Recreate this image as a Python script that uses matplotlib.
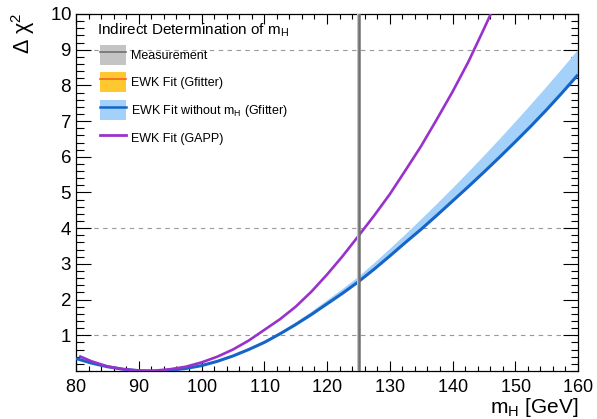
import matplotlib
matplotlib.use("Agg")
import matplotlib.pyplot as plt
from matplotlib.patches import Patch
from matplotlib.lines import Line2D
from matplotlib.ticker import MultipleLocator, FuncFormatter

plt.rcParams['font.family'] = ['Liberation Sans', 'DejaVu Sans']
plt.rcParams['mathtext.fontset'] = 'custom'
plt.rcParams['mathtext.rm'] = 'Liberation Sans'
plt.rcParams['mathtext.it'] = 'Liberation Sans'
plt.rcParams['mathtext.default'] = 'regular'

# ---- data ----
mh_gapp = [80.5, 82.5, 85, 87.5, 90, 91, 92.5, 95, 97.5, 100, 102.5, 105, 107.5, 110,
           112.5, 115, 117.5, 120, 122.5, 125, 127.5, 130, 132.5, 135, 137.5, 140,
           142.5, 145, 146.1]
chi2_gapp = [0.42, 0.27, 0.13, 0.05, 0.01, 0.0, 0.01, 0.05, 0.12, 0.24, 0.40, 0.60, 0.85, 1.15,
             1.45, 1.80, 2.22, 2.70, 3.22, 3.78, 4.35, 4.95, 5.62, 6.30, 7.05, 7.82,
             8.65, 9.58, 10.0]

mh_gf = [80, 82.5, 85, 87.5, 90, 92.5, 95, 97.5, 100, 102.5, 105, 107.5, 110, 112.5,
         115, 117.5, 120, 122.5, 125, 127.5, 130, 132.5, 135, 137.5, 140, 142.5, 145,
         147.5, 150, 152.5, 155, 157.5, 160]
chi2_gf = [0.35, 0.22, 0.12, 0.05, 0.01, 0.0, 0.02, 0.07, 0.15, 0.27, 0.42, 0.60, 0.80, 1.04,
           1.30, 1.58, 1.88, 2.18, 2.50, 2.85, 3.22, 3.60, 3.97, 4.36, 4.76, 5.16, 5.57,
           5.99, 6.42, 6.86, 7.32, 7.80, 8.30]
chi2_gf_up = [0.35, 0.22, 0.12, 0.05, 0.01, 0.0, 0.02, 0.07, 0.16, 0.28, 0.44, 0.63, 0.85, 1.10,
              1.38, 1.68, 2.00, 2.32, 2.66, 3.04, 3.44, 3.85, 4.27, 4.70, 5.14, 5.59, 6.05,
              6.52, 7.00, 7.49, 7.99, 8.50, 9.02]

mh_meas = 125.09
mh_meas_err = 0.24
dashed_levels = [1, 4, 9]

x_ticks = [80, 90, 100, 110, 120, 130, 140, 150, 160]
y_ticks = [1, 2, 3, 4, 5, 6, 7, 8, 9, 10]

# ---- colours ----
c_meas_band = '#c4c4c4'
c_meas_line = '#707070'
c_orange_band = '#ffc830'
c_orange_line = '#f26522'
c_blue_band = '#a3d1fa'
c_blue_line = '#1565c8'
c_purple = '#9932cc'

fig = plt.figure(figsize=(5.97, 4.19), dpi=100)
ax = fig.add_axes([76/597, 48/419, 502/597, 357/419])

ax.set_xlim(80, 160)
ax.set_ylim(0, 10)

for lv in dashed_levels:
    ax.axhline(lv, color='#999999', lw=0.8, ls=(0, (4, 4)), zorder=1)

ax.fill_between(mh_gf, chi2_gf, chi2_gf_up, color=c_blue_band, lw=0, zorder=2)
ax.plot(mh_gf, chi2_gf, color=c_blue_line, lw=2.2, zorder=3, solid_capstyle='butt')
ax.plot(mh_gapp, chi2_gapp, color=c_purple, lw=1.9, zorder=3, solid_capstyle='butt')

ax.axvspan(mh_meas - mh_meas_err, mh_meas + mh_meas_err, color=c_meas_band, lw=0, zorder=4)
ax.axvline(mh_meas, color=c_meas_line, lw=1.8, zorder=5)

ax.set_xticks(x_ticks)
ax.set_yticks(y_ticks)
tight_fmt = FuncFormatter(lambda v, p: f'${v:g}$')
ax.xaxis.set_major_formatter(tight_fmt)
ax.yaxis.set_major_formatter(tight_fmt)
ax.xaxis.set_minor_locator(MultipleLocator(2))
ax.yaxis.set_minor_locator(MultipleLocator(0.2))
ax.tick_params(axis='both', which='both', direction='in', top=True, right=True,
               labelsize=13.5, colors='black')
ax.tick_params(axis='x', which='major', length=7.2, width=0.8, pad=5.5, labelsize=13)
ax.tick_params(axis='x', which='minor', length=3.6, width=0.8)
ax.tick_params(axis='y', which='major', length=10.8, width=0.8, pad=3)
ax.tick_params(axis='y', which='minor', length=5.4, width=0.8)
for s in ax.spines.values():
    s.set_linewidth(0.9)

ax.set_xlabel('m$_{H}$ [GeV]', fontsize=15, loc='right', va='baseline')
ax.xaxis.set_label_coords(1.0, -0.117)
ax.set_ylabel('Δ χ$^{2}$', fontsize=15.5, loc='top', va='baseline')
ax.yaxis.set_label_coords(-0.092, 1.003)

ax.text(0.042, 0.955, 'Indirect Determination of m$_{H}$', transform=ax.transAxes,
        fontsize=11, ha='left', va='center', zorder=10)

handles = [
    (Patch(facecolor=c_meas_band, edgecolor='none'), Line2D([], [], color=c_meas_line, lw=1.2)),
    (Patch(facecolor=c_orange_band, edgecolor='none'), Line2D([], [], color=c_orange_line, lw=1.2)),
    (Patch(facecolor=c_blue_band, edgecolor='none'), Line2D([], [], color=c_blue_line, lw=1.8)),
    Line2D([], [], color=c_purple, lw=2.0),
]
labels = ['Measurement', 'EWK Fit (Gfitter)', 'EWK Fit without m$_{H}$ (Gfitter)', 'EWK Fit (GAPP)']
leg = ax.legend(handles, labels, loc='upper left', bbox_to_anchor=(0.047, 0.914),
                frameon=False, fontsize=9, alignment='left', handlelength=2.15, handleheight=2.1,
                labelspacing=0.6, handletextpad=0.4, borderpad=0, borderaxespad=0)
leg.set_zorder(10)

fig.savefig('out.png', dpi=100)
